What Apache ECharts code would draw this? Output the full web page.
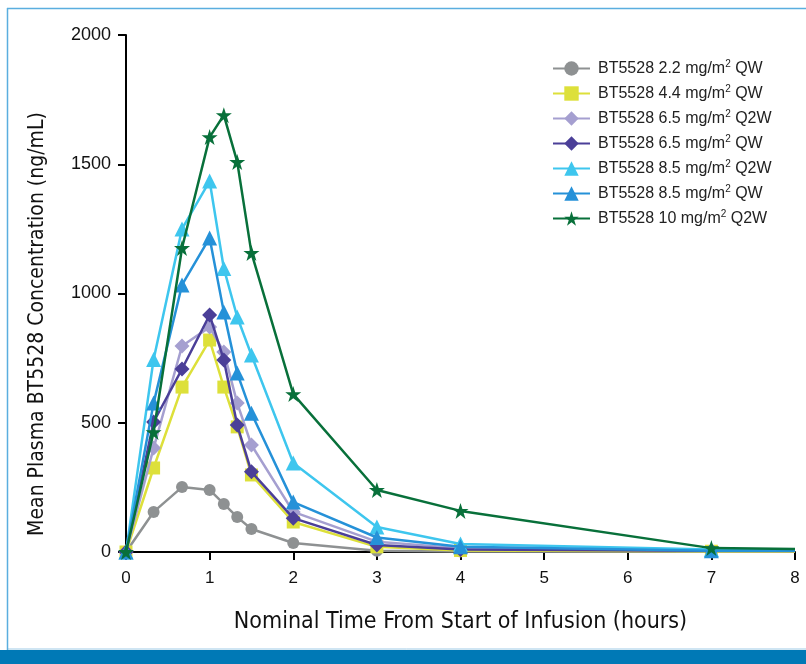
<!DOCTYPE html>
<html><head><meta charset="utf-8">
<script src="https://cdn.jsdelivr.net/npm/echarts@6/dist/echarts.min.js"></script>
<style>html,body{margin:0;padding:0;background:#fff}#c{width:806px;height:664px}</style>
</head><body><div id="c"></div>
<script>
var times = [0, 0.33, 0.67, 1, 1.17, 1.33, 1.5, 2, 3, 4, 7, 8];
var names = ['BT5528 2.2 mg/m2 QW','BT5528 4.4 mg/m2 QW','BT5528 6.5 mg/m2 Q2W','BT5528 6.5 mg/m2 QW','BT5528 8.5 mg/m2 Q2W','BT5528 8.5 mg/m2 QW','BT5528 10 mg/m2 Q2W'];
var s22QW  = [0, 155, 251, 240, 186, 135, 89, 35, 5, 2, 1, 1];
var s44QW  = [0, 325, 638, 820, 638, 484, 298, 116, 20, 6, 3, 3];
var s65Q2W = [0, 402, 797, 870, 774, 576, 414, 155, 40, 15, 5, 5];
var s65QW  = [0, 503, 708, 917, 743, 491, 310, 131, 27, 10, 5, 5];
var s85Q2W = [0, 745, 1250, 1435, 1097, 909, 762, 344, 97, 31, 10, 10];
var s85QW  = [0, 576, 1033, 1215, 928, 692, 537, 193, 56, 20, 5, 5];
var s10Q2W = [0, 464, 1176, 1605, 1690, 1509, 1157, 611, 240, 159, 15, 12];
var yTicks = [0, 500, 1000, 1500, 2000];
var xTicks = [0, 1, 2, 3, 4, 5, 6, 7, 8];
var xTitle = 'Nominal Time From Start of Infusion (hours)';
var yTitle = 'Mean Plasma BT5528 Concentration (ng/mL)';

var colors = ['#8e9192','#dde03a','#a59fd0','#4b3f98','#3ec6ee','#2591d8','#08703a'];
var symbols = ['circle','rect','diamond','diamond','triangle','triangle','path://M50,0 L61.8,35.4 L99,35.4 L69,57.3 L80.4,92.7 L50,70.8 L19.6,92.7 L31,57.3 L1,35.4 L38.2,35.4 Z'];
var sizes = [12, 13, 15, 15, 15, 15, 16];
var allData = [s22QW, s44QW, s65Q2W, s65QW, s85Q2W, s85QW, s10Q2W];
var condensed = "'DejaVu Sans Condensed', 'Liberation Sans Narrow', 'Arial Narrow', Roboto, sans-serif";

var series = allData.map(function(arr, i){
  return {
    name: names[i], type: 'line', data: arr.map(function(v, j){
      var d = {value: [times[j], v]};
      if (j === times.length - 1) d.symbol = 'none';
      return d;
    }),
    symbol: symbols[i], symbolSize: sizes[i], showAllSymbol: true,
    itemStyle: {color: colors[i], opacity: 1},
    lineStyle: {color: colors[i], width: 2.5},
    emphasis: {disabled: true}, animation: false, z: 2 + i, clip: false
  };
});

var chart = echarts.init(document.getElementById('c'), null, {renderer: 'canvas'});
chart.setOption({
  animation: false,
  grid: {left: 126, right: 11, top: 35, bottom: 112, containLabel: false},
  legend: {
    orient: 'vertical', left: 547, top: 54, itemGap: 7.5, itemWidth: 37, itemHeight: 18,
    data: names,
    formatter: function(n){ return n.replace('m2', 'm{sup|2}'); },
    textStyle: {fontFamily: 'Liberation Sans', fontSize: 16, color: '#222', padding: [0,0,0,3],
      rich: {sup: {fontSize: 10, verticalAlign: 'top', padding: [0,0,9,0], fontFamily: 'Liberation Sans', color: '#222'}}}
  },
  xAxis: {
    type: 'value', min: 0, max: 8, interval: 1,
    name: xTitle, nameLocation: 'middle', nameGap: 59,
    nameTextStyle: {fontFamily: condensed, fontSize: 23, color: '#111'},
    axisLine: {show: true, lineStyle: {color: '#000', width: 2}},
    axisTick: {show: true, length: 8, inside: false, lineStyle: {color: '#000', width: 2}},
    axisLabel: {fontFamily: 'Liberation Sans', fontSize: 17, color: '#111', margin: 18},
    splitLine: {show: false}
  },
  yAxis: {
    type: 'value', min: 0, max: 2000, interval: 500,
    axisLine: {show: true, lineStyle: {color: '#000', width: 2}},
    axisTick: {show: true, length: 8, lineStyle: {color: '#000', width: 2}},
    axisLabel: {fontFamily: 'Liberation Sans', fontSize: 18, color: '#111', margin: 15,
      formatter: function(v){ return String(v); }},
    splitLine: {show: false}
  },
  graphic: [
    {type: 'text', x: 38, y: 324, rotation: Math.PI / 2,
      style: {text: yTitle, font: "21px " + condensed, fill: '#111', align: 'center', verticalAlign: 'middle'}, z: 100},
    {type: 'rect', shape: {x: 0, y: 650, width: 806, height: 14}, style: {fill: '#0079b6'}, z: 100},
    {type: 'line', shape: {x1: 7, y1: 649, x2: 806, y2: 649}, style: {stroke: '#9fcbe6', lineWidth: 1}, z: 100},
    {type: 'line', shape: {x1: 7.5, y1: 8, x2: 7.5, y2: 650}, style: {stroke: '#5aaedf', lineWidth: 1.5}, z: 100},
    {type: 'line', shape: {x1: 7, y1: 8.5, x2: 806, y2: 8.5}, style: {stroke: '#5aaedf', lineWidth: 1.5}, z: 100}
  ],
  series: series
});
</script></body></html>
